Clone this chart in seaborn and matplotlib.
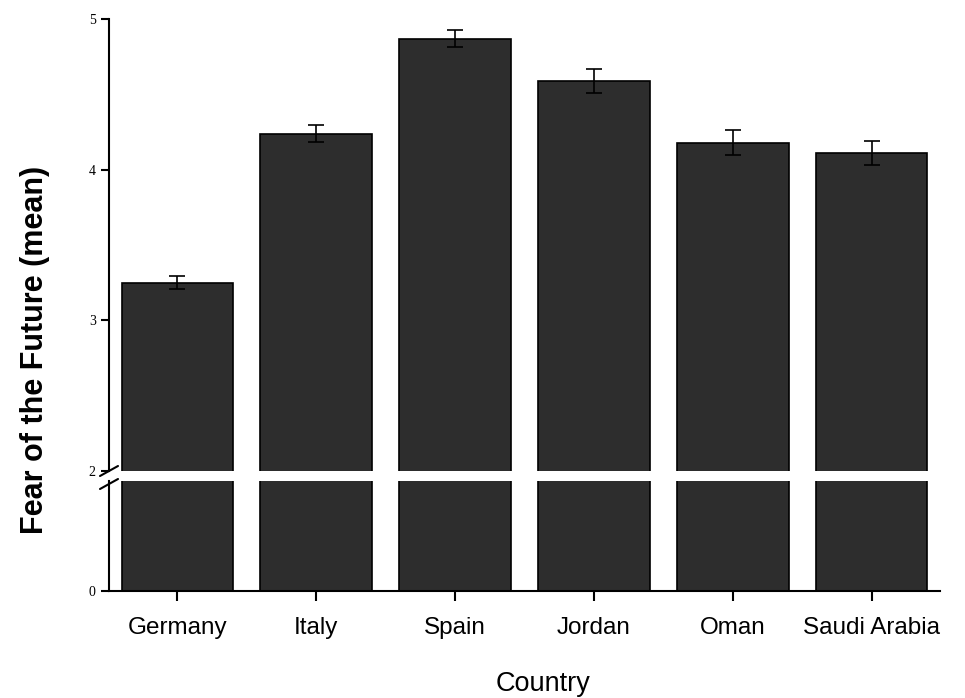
import matplotlib
matplotlib.use("Agg")
import matplotlib.pyplot as plt
import seaborn as sns
import numpy as np
import pandas as pd

countries = ["Germany", "Italy", "Spain", "Jordan", "Oman", "Saudi Arabia"]
means = [3.25, 4.24, 4.87, 4.59, 4.18, 4.11]
errors = [0.045, 0.055, 0.055, 0.08, 0.08, 0.08]
upper_ticks = [2, 3, 4, 5]
lower_ticks = [0]

sns.set_style("ticks")
plt.rcParams["font.family"] = ["Liberation Sans", "DejaVu Sans"]
plt.rcParams["text.color"] = "black"
plt.rcParams["axes.labelcolor"] = "black"
plt.rcParams["xtick.color"] = "black"
plt.rcParams["ytick.color"] = "black"
plt.rcParams["axes.edgecolor"] = "black"

df = pd.DataFrame({"Country": countries, "Mean": means})

W, H = 965, 698
fig = plt.figure(figsize=(W / 100, H / 100), dpi=100)

left = 109 / W
right = 940 / W
ax_top = fig.add_axes([left, 1 - 471 / H, right - left, (471 - 19) / H])
ax_bot = fig.add_axes([left, 1 - 591 / H, right - left, (591 - 481) / H])

bar_color = "#2d2d2d"
for ax in (ax_top, ax_bot):
    sns.barplot(data=df, x="Country", y="Mean", ax=ax, color=bar_color,
                edgecolor="black", linewidth=1.2, width=0.8, saturation=1,
                errorbar=None)
    ax.set_xlim(-0.49, 5.49)
    ax.set_xlabel("")
    ax.set_ylabel("")
    ax.spines["top"].set_visible(False)
    ax.spines["right"].set_visible(False)
    ax.spines["left"].set_linewidth(1.5)
    ax.spines["bottom"].set_linewidth(1.5)
    ax.tick_params(axis="y", direction="out", length=6, width=1.5, labelsize=10,
                   colors="black")

ax_top.errorbar(x=np.arange(len(countries)), y=means, yerr=errors, fmt="none",
                ecolor="black", elinewidth=1.2, capsize=6, capthick=1.2)

ax_top.set_ylim(2, 5)
ax_top.set_yticks(upper_ticks)
ax_top.set_yticklabels([str(t) for t in upper_ticks], family="Liberation Serif", fontsize=10)
ax_top.spines["bottom"].set_visible(False)
ax_top.tick_params(axis="x", bottom=False, labelbottom=False)

ax_bot.set_ylim(0, 2)
ax_bot.set_yticks(lower_ticks)
ax_bot.set_yticklabels([str(t) for t in lower_ticks], family="Liberation Serif", fontsize=10)
ax_bot.tick_params(axis="x", direction="out", length=7, width=1.5, labelsize=17.5,
                   pad=12, colors="black")
for lab in ax_bot.get_xticklabels():
    lab.set_family("Liberation Sans")

# break marks on y axis
bx = 109 / W
for yc in (471, 484):
    fig.add_artist(plt.Line2D([bx - 9 / W, bx + 9 / W],
                              [1 - (yc + 5) / H, 1 - (yc - 5) / H],
                              color="black", lw=1.5, transform=fig.transFigure))

fig.text(35 / W, 1 - 350 / H, "Fear of the Future (mean)", rotation=90,
         ha="center", va="center", fontsize=22, fontweight="bold", color="black")
fig.text(543 / W, 1 - 684 / H, "Country", ha="center", va="center", fontsize=19.5,
         color="black")

fig.savefig("out.png", dpi=100)
